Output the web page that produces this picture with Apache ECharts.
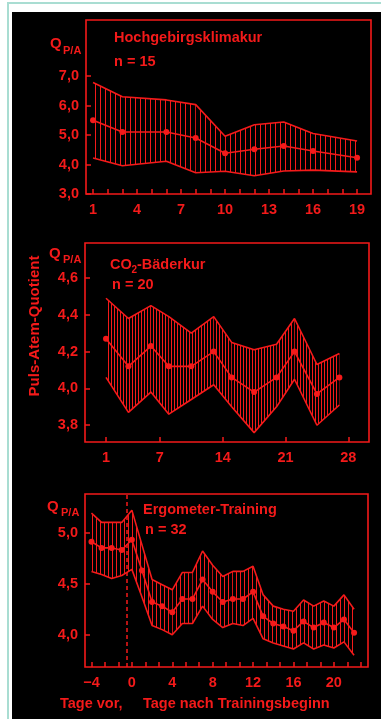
<!DOCTYPE html>
<html>
<head>
<meta charset="utf-8">
<script src="https://cdn.jsdelivr.net/npm/echarts@6/dist/echarts.min.js"></script>
<style>
html,body{margin:0;padding:0;background:#fff;width:381px;height:719px;overflow:hidden;}
#frame{position:absolute;left:7px;top:2px;width:374px;height:717px;border-top:2px solid #a9ddd2;border-left:2px solid #a9ddd2;box-sizing:border-box;}
#black{position:absolute;left:12px;top:12px;width:369px;height:707px;background:#000;}
#chart{position:absolute;left:0;top:0;width:381px;height:719px;}
</style>
</head>
<body>
<div id="frame"></div>
<div id="black"></div>
<div id="chart"></div>
<script>
// ---- Data ----
// Panel 1: Hochgebirgsklimakur (n = 15)
const days1 = [1, 3, 6, 8, 10, 12, 14, 16, 19];
const mean1 = [5.5, 5.1, 5.1, 4.9, 4.38, 4.52, 4.63, 4.46, 4.23];
const upper1 = [6.78, 6.3, 6.19, 6.03, 4.96, 5.35, 5.44, 5.05, 4.8];
const lower1 = [4.22, 3.96, 4.11, 3.72, 3.77, 3.62, 3.78, 3.81, 3.75];
const xLabels1 = [1, 4, 7, 10, 13, 16, 19];
const xTicks1 = [1, 2, 3, 4, 5, 6, 7, 8, 9, 10, 11, 12, 13, 14, 15, 16, 17, 18, 19];
const yLabels1 = [3, 4, 5, 6, 7];

// Panel 2: CO2-Bäderkur (n = 20)
const days2 = [1, 3.5, 6, 8, 10.5, 13, 15, 17.5, 20, 22, 24.5, 27];
const mean2 = [4.27, 4.12, 4.23, 4.12, 4.12, 4.2, 4.06, 3.98, 4.06, 4.2, 3.97, 4.06];
const upper2 = [4.49, 4.38, 4.45, 4.39, 4.30, 4.39, 4.25, 4.21, 4.24, 4.38, 4.13, 4.19];
const lower2 = [4.06, 3.87, 3.98, 3.86, 3.94, 4.02, 3.90, 3.76, 3.90, 4.05, 3.80, 3.91];
const xLabels2 = [1, 7, 14, 21, 28];
const yLabels2 = [3.8, 4.0, 4.2, 4.4, 4.6];

// Panel 3: Ergometer-Training (n = 32)
const days3 = [-4, -3, -2, -1, 0, 1, 2, 3, 4, 5, 6, 7, 8, 9, 10, 11, 12, 13, 14, 15, 16, 17, 18, 19, 20, 21, 22];
const mean3 = [4.91, 4.85, 4.85, 4.83, 4.93, 4.63, 4.32, 4.28, 4.22, 4.35, 4.35, 4.54, 4.42, 4.32, 4.35, 4.35, 4.42, 4.18, 4.11, 4.08, 4.04, 4.13, 4.07, 4.12, 4.07, 4.15, 4.02];
const upper3 = [5.19, 5.10, 5.10, 5.10, 5.22, 4.88, 4.54, 4.49, 4.44, 4.61, 4.61, 4.82, 4.68, 4.57, 4.62, 4.62, 4.67, 4.39, 4.28, 4.25, 4.23, 4.34, 4.28, 4.33, 4.28, 4.39, 4.25];
const lower3 = [4.62, 4.59, 4.55, 4.58, 4.64, 4.37, 4.09, 4.05, 4.00, 4.11, 4.11, 4.28, 4.15, 4.07, 4.11, 4.09, 4.16, 3.96, 3.92, 3.89, 3.86, 3.92, 3.86, 3.90, 3.87, 3.93, 3.80];
const xLabels3 = [-4, 0, 4, 8, 12, 16, 20];
const xTicks3 = [-4, -2.667, -1.333, 0, 1.333, 2.667, 4, 5.333, 6.667, 8, 9.333, 10.667, 12, 13.333, 14.667, 16, 17.333, 18.667, 20, 21.333, 22.667];
const yLabels3 = [4.0, 4.5, 5.0];
const trainingStart = -0.55;

// ---- Styling ----
const RED = '#f41a1a';
const FONT = '"Liberation Sans", Arial, sans-serif';
const FS = 14.5;

function hatch(spacing) {
  const c = document.createElement('canvas');
  c.width = spacing; c.height = 8;
  const g = c.getContext('2d');
  g.fillStyle = RED;
  g.fillRect(0, 0, 1, 8);
  return { image: c, repeat: 'repeat' };
}

const fmtY = v => v.toFixed(1).replace('.', ',');
const fmtX = v => (v < 0 ? '\u2212' + Math.abs(v) : String(v));

function xAxis(idx, min, max, labels, ticks) {
  return {
    type: 'value', gridIndex: idx, min: min, max: max,
    axisLine: { show: false, onZero: false },
    splitLine: { show: false },
    axisTick: { inside: true, length: 5, customValues: ticks, lineStyle: { color: RED, width: 1.5 } },
    axisLabel: { customValues: labels, formatter: fmtX, color: RED, fontSize: FS, fontWeight: 'bold', fontFamily: FONT, margin: 8 }
  };
}
function yAxis(idx, min, max, labels) {
  return {
    type: 'value', gridIndex: idx, min: min, max: max,
    axisLine: { show: false, onZero: false },
    splitLine: { show: false },
    axisTick: { inside: true, length: 5, customValues: labels, lineStyle: { color: RED, width: 1.5 } },
    axisLabel: { customValues: labels, formatter: fmtY, color: RED, fontSize: FS, fontWeight: 'bold', fontFamily: FONT, margin: 7 }
  };
}

function band(idx, days, lower, upper, mean, spacing, extra) {
  const pattern = hatch(spacing);
  const segs = [];
  for (let i = 0; i < days.length - 1; i++) {
    segs.push([days[i], lower[i], upper[i], days[i + 1], lower[i + 1], upper[i + 1]]);
  }
  const line = { color: RED, width: 1.6 };
  return [
    { type: 'custom', xAxisIndex: idx, yAxisIndex: idx, data: segs, z: 1,
      encode: { x: [0, 3], y: [1, 2, 4, 5] },
      renderItem: function (params, api) {
        const a = api.coord([api.value(0), api.value(1)]);
        const b = api.coord([api.value(0), api.value(2)]);
        const c = api.coord([api.value(3), api.value(5)]);
        const d = api.coord([api.value(3), api.value(4)]);
        return { type: 'polygon', shape: { points: [a, b, c, d] }, style: { fill: pattern, stroke: null } };
      } },
    { type: 'line', xAxisIndex: idx, yAxisIndex: idx, data: days.map((x, i) => [x, lower[i]]),
      symbol: 'none', lineStyle: line, z: 2 },
    { type: 'line', xAxisIndex: idx, yAxisIndex: idx, data: days.map((x, i) => [x, upper[i]]),
      symbol: 'none', lineStyle: line, z: 2 },
    Object.assign({ type: 'line', xAxisIndex: idx, yAxisIndex: idx, data: days.map((x, i) => [x, mean[i]]),
      symbol: 'circle', symbolSize: 6, itemStyle: { color: RED }, lineStyle: line, z: 3 }, extra || {})
  ];
}

function txt(x, y, text, size, extra) {
  return Object.assign({ type: 'text', x: x, y: y,
    style: { text: text, fill: RED, font: 'bold ' + size + 'px ' + FONT, textAlign: 'left', textVerticalAlign: 'middle' } }, extra || {});
}

const chart = echarts.init(document.getElementById('chart'), null, { renderer: 'canvas' });
const gridBase = { show: true, borderColor: RED, borderWidth: 1.6, backgroundColor: 'transparent' };

chart.setOption({
  animation: false,
  backgroundColor: 'transparent',
  grid: [
    Object.assign({ left: 86, top: 20, width: 285, height: 174 }, gridBase),
    Object.assign({ left: 85, top: 243, width: 284, height: 199 }, gridBase),
    Object.assign({ left: 85, top: 494, width: 283, height: 173 }, gridBase)
  ],
  xAxis: [
    xAxis(0, 0.52, 19.95, xLabels1, xTicks1),
    xAxis(1, -1.34, 30.3, xLabels2, xLabels2),
    xAxis(2, -4.64, 23.38, xLabels3, xTicks3)
  ],
  yAxis: [
    yAxis(0, 3.0, 8.9, yLabels1),
    yAxis(1, 3.709, 4.79, yLabels2),
    yAxis(2, 3.684, 5.378, yLabels3)
  ],
  series: [].concat(
    band(0, days1, lower1, upper1, mean1, 5),
    band(1, days2, lower2, upper2, mean2, 3),
    band(2, days3, lower3, upper3, mean3, 4, {
      markLine: { silent: true, symbol: 'none', label: { show: false },
        lineStyle: { color: RED, width: 1.5, type: [4, 3] },
        data: [{ xAxis: trainingStart }] }
    })
  ),
  graphic: [
    txt(50, 44, 'Q', 15), txt(63, 50.5, 'P/A', 11),
    txt(49, 254, 'Q', 15), txt(63, 260, 'P/A', 11),
    txt(47, 507, 'Q', 15), txt(61, 512.5, 'P/A', 11),
    txt(114, 38, 'Hochgebirgsklimakur', FS),
    txt(114, 62, 'n = 15', FS),
    txt(110, 265, 'CO', FS), txt(131.5, 270, '2', 10), txt(137, 265, '-Bäderkur', FS),
    txt(112, 285, 'n = 20', FS),
    txt(143, 510, 'Ergometer-Training', FS),
    txt(145, 530, 'n = 32', FS),
    { type: 'text', x: 35, y: 326, rotation: Math.PI / 2,
      style: { text: 'Puls-Atem-Quotient', fill: RED, font: 'bold 15px ' + FONT, textAlign: 'center', textVerticalAlign: 'middle' } },
    txt(60, 704, 'Tage vor,', FS),
    txt(143, 704, 'Tage nach Trainingsbeginn', FS)
  ]
});
</script>
</body>
</html>
